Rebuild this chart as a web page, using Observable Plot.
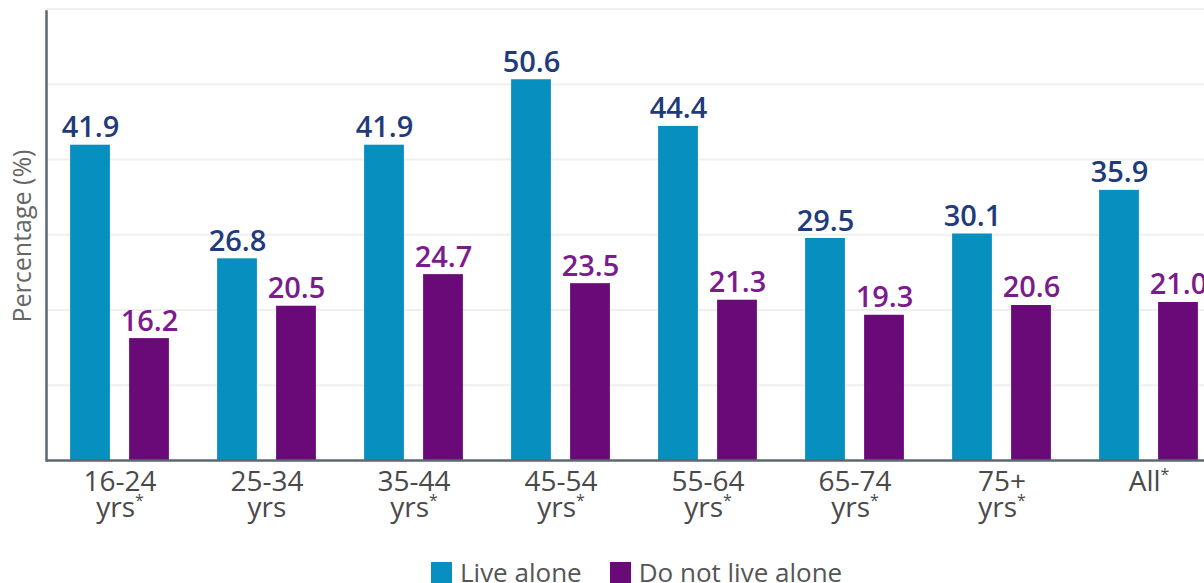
<!DOCTYPE html>
<html>
<head>
<meta charset="utf-8">
<script src="https://cdn.jsdelivr.net/npm/d3@7"></script>
<script src="https://cdn.jsdelivr.net/npm/@observablehq/plot@0.6"></script>
<style>
  html, body { margin: 0; padding: 0; background: #fff; overflow: hidden; }
  body { width: 1204px; height: 583px; position: relative; font-family: "Open Sans", sans-serif; }
  #chart svg { display: block; }
  #legend { position: absolute; left: 431px; top: 554px; display: flex; align-items: center; font-size: 26px; color: #555; white-space: nowrap; }
  .sw { display: inline-block; width: 21px; height: 21px; margin-right: 8px; }
  .item { display: flex; align-items: center; margin-right: 28px; }
</style>
</head>
<body>
<div id="chart"></div>
<div id="legend"></div>
<script>
// ---- data ----
const groups = ["16-24\nyrs*", "25-34\nyrs", "35-44\nyrs*", "45-54\nyrs*", "55-64\nyrs*", "65-74\nyrs*", "75+\nyrs*", "All*"];
const liveAlone = [41.9, 26.8, 41.9, 50.6, 44.4, 29.5, 30.1, 35.9];
const notLiveAlone = [16.2, 20.5, 24.7, 23.5, 21.3, 19.3, 20.6, 21.0];
const seriesNames = ["Live alone", "Do not live alone"];
const gridValues = [10, 20, 30, 40, 50, 60];
const yLabel = "Percentage (%)";

const colors = { bar: ["#078fbf", "#6a0a78"], label: ["#1f3b7b", "#7c1b8d"] };

const liveRows = groups.map((g, i) => ({ group: g, value: liveAlone[i] }));
const notRows = groups.map((g, i) => ({ group: g, value: notLiveAlone[i] }));

const height = 545;
const chart = Plot.plot({
  width: 1204,
  height,
  marginLeft: 46,
  marginRight: 0,
  marginTop: 11,
  marginBottom: height - 460,
  style: { fontFamily: "Open Sans, sans-serif", color: "#4a4a4a", background: "#fff", overflow: "hidden" },
  x: { type: "band", domain: groups, range: [44.9, 1222.5], padding: 0, axis: null },
  y: { domain: [0, 60], range: [460, 8.5], axis: null },
  marks: [
    Plot.gridY(gridValues, { stroke: "#efefef", strokeOpacity: 1, strokeWidth: 2 }),
    Plot.barY(liveRows, { x: "group", y: "value", fill: colors.bar[0], insetLeft: 24.1, insetRight: 83.1 }),
    Plot.barY(notRows, { x: "group", y: "value", fill: colors.bar[1], insetLeft: 83.1, insetRight: 24.1 }),
    Plot.text(liveRows, { x: "group", y: "value", text: d => d.value.toFixed(1), dx: -29.5, dy: -8, lineAnchor: "bottom", fill: colors.label[0], fontSize: 29, fontWeight: 600 }),
    Plot.text(notRows, { x: "group", y: "value", text: d => d.value.toFixed(1), dx: 29.5, dy: -8, lineAnchor: "bottom", fill: colors.label[1], fontSize: 29, fontWeight: 600 }),
    Plot.ruleY([0], { stroke: "#5d6770", strokeWidth: 2.5 }),
    Plot.frame({ anchor: "left", stroke: "#5d6770", strokeWidth: 2.5 }),
    Plot.axisX({ tickSize: 0, tickPadding: 12, fontSize: 28, lineHeight: 0.92, label: null, fill: "#4a4a4a" }),
    Plot.text([yLabel], { frameAnchor: "left", textAnchor: "middle", rotate: -90, dx: -24, dy: 0, fontSize: 25, fill: "#666" })
  ]
});
document.getElementById("chart").appendChild(chart);

// superscript asterisks in tick labels
const walker = document.createTreeWalker(chart, NodeFilter.SHOW_TEXT);
const nodes = [];
while (walker.nextNode()) if (walker.currentNode.nodeValue.includes("*")) nodes.push(walker.currentNode);
for (const n of nodes) {
  const parts = n.nodeValue.split("*");
  const parent = n.parentNode;
  const frag = document.createDocumentFragment();
  parts.forEach((p, i) => {
    if (p) frag.appendChild(document.createTextNode(p));
    if (i < parts.length - 1) {
      const t = document.createElementNS("http://www.w3.org/2000/svg", "tspan");
      t.setAttribute("font-size", "16");
      t.setAttribute("dy", "-11");
      t.textContent = "*";
      frag.appendChild(t);
    }
  });
  parent.replaceChild(frag, n);
}

// legend
const legend = document.getElementById("legend");
seriesNames.forEach((name, i) => {
  const item = document.createElement("span");
  item.className = "item";
  const sw = document.createElement("span");
  sw.className = "sw";
  sw.style.background = colors.bar[i];
  item.appendChild(sw);
  item.appendChild(document.createTextNode(name));
  legend.appendChild(item);
});
</script>
</body>
</html>
